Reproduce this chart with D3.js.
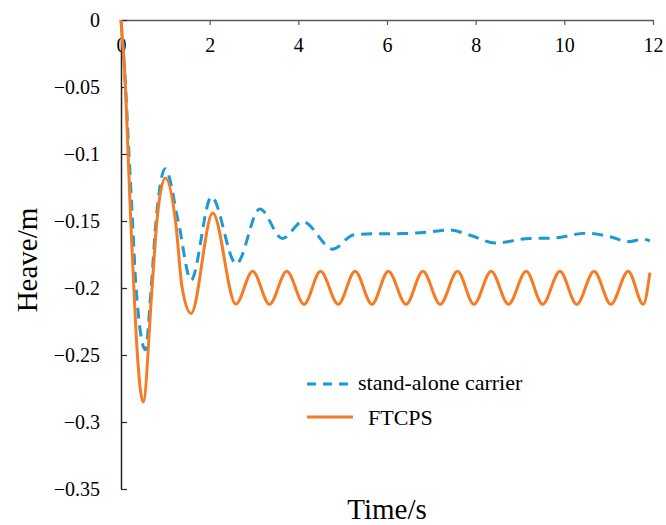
<!DOCTYPE html>
<html>
<head>
<meta charset="utf-8">
<script src="https://cdn.jsdelivr.net/npm/d3@7"></script>
<style>
  body { margin: 0; background: #fff; }
</style>
</head>
<body>
<svg id="chart" width="666" height="525"></svg>
<script>
// values
const xTickValues = [0, 2, 4, 6, 8, 10, 12];
const yTickValues = [0, -0.05, -0.1, -0.15, -0.2, -0.25, -0.3, -0.35];
const yTickLabels = ['0', '\u22120.05', '\u22120.1', '\u22120.15', '\u22120.2', '\u22120.25', '\u22120.3', '\u22120.35'];

const seriesNames = ['stand-alone carrier', 'FTCPS'];

const carrierTime = [0, 0.1, 0.18, 0.26, 0.34, 0.55, 0.68, 0.79, 1.0, 1.29, 1.58, 2.04, 2.6, 3.13, 3.64, 4.1,
  4.78, 5.24, 5.8, 6.36, 7.0, 7.4, 7.91, 8.44, 9.23, 9.68, 10.5, 11.03, 11.44, 11.78, 11.93];
const carrierHeave = [0, -0.048, -0.1, -0.15, -0.2, -0.246, -0.2, -0.15, -0.111, -0.15, -0.194, -0.132, -0.182, -0.141, -0.163, -0.1505,
  -0.171, -0.1604, -0.1595, -0.1594, -0.158, -0.1567, -0.161, -0.1665, -0.163, -0.1629, -0.1592, -0.1617, -0.1654, -0.1636, -0.1649];

const ftcpsTime = [0, 0.1, 0.16, 0.22, 0.29, 0.37, 0.5, 0.7, 0.81, 1.0, 1.23, 1.38, 1.58, 2.07, 2.59,
  2.97, 3.35, 3.74, 4.13, 4.5, 4.9, 5.28, 5.66, 6.03, 6.43, 6.81, 7.2, 7.59, 7.96, 8.35, 8.74,
  9.14, 9.51, 9.9, 10.28, 10.67, 11.05, 11.44, 11.78, 11.93];
const ftcpsHeave = [0, -0.05, -0.1, -0.15, -0.2, -0.25, -0.285, -0.2, -0.15, -0.118, -0.15, -0.2, -0.219, -0.144, -0.212,
  -0.1875, -0.2122, -0.1875, -0.2122, -0.1875, -0.2122, -0.1875, -0.2122, -0.1875, -0.2122, -0.1875, -0.2122, -0.1875, -0.2122, -0.1875, -0.2122,
  -0.1875, -0.2122, -0.1875, -0.2122, -0.1875, -0.2122, -0.1875, -0.2122, -0.1885];

const margin = { top: 20, right: 13, bottom: 36, left: 121 };
const colors = { carrier: '#1b9ad6', ftcps: '#f57c24' };
const serif = '"Liberation Serif", "Times New Roman", Times, serif';

const svg = d3.select('#chart');
const width = +svg.attr('width') - margin.left - margin.right;
const height = +svg.attr('height') - margin.top - margin.bottom;
const g = svg.append('g').attr('transform', `translate(${margin.left},${margin.top})`);

const x = d3.scaleLinear().domain([0, 12]).range([0, width]);
const y = d3.scaleLinear().domain([0, -0.35]).range([0, height]);

function toPoints(times, values) {
  return times.map((t, i) => ({ x: t, y: values[i] }));
}

function createAxisTop() {
  const axis = g.append('g')
    .attr('class', 'axis axis--x')
    .call(d3.axisBottom(x).tickValues(xTickValues).tickSize(5).tickSizeOuter(0).tickPadding(13))
    .attr('font-family', serif)
    .attr('font-size', 20);
  axis.select('.domain').attr('stroke', '#595959').attr('stroke-width', 1.5);
  axis.selectAll('.tick line').attr('stroke', '#595959').attr('stroke-width', 1.2);
  axis.selectAll('.tick text').attr('fill', '#000');
}

function createAxisLeft() {
  const axis = g.append('g')
    .attr('class', 'axis axis--y')
    .call(d3.axisLeft(y).tickValues(yTickValues).tickSize(-6).tickSizeOuter(0).tickPadding(21)
      .tickFormat((d, i) => yTickLabels[i]))
    .attr('font-family', serif)
    .attr('font-size', 20);
  axis.select('.domain').attr('stroke', '#262626').attr('stroke-width', 1.5);
  axis.selectAll('.tick line').attr('stroke', '#262626').attr('stroke-width', 1.2);
  axis.selectAll('.tick text').attr('fill', '#000');
}

createAxisTop();
createAxisLeft();

const line = d3.line()
  .x(d => x(d.x))
  .y(d => y(d.y))
  .curve(d3.curveMonotoneX);

g.append('path')
  .datum(toPoints(carrierTime, carrierHeave))
  .attr('fill', 'none')
  .attr('stroke', colors.carrier)
  .attr('stroke-width', 3)
  .attr('stroke-dasharray', '11,7')
  .attr('d', line);

g.append('path')
  .datum(toPoints(ftcpsTime, ftcpsHeave))
  .attr('fill', 'none')
  .attr('stroke', colors.ftcps)
  .attr('stroke-width', 3)
  .attr('d', line);

// axis titles
svg.append('text')
  .attr('x', 387)
  .attr('y', 519)
  .attr('text-anchor', 'middle')
  .attr('font-family', serif)
  .attr('font-size', 29)
  .text('Time/s');

svg.append('text')
  .attr('transform', 'translate(37,260) rotate(-90)')
  .attr('text-anchor', 'middle')
  .attr('font-family', serif)
  .attr('font-size', 29)
  .text('Heave/m');

// legend
const legend = svg.append('g').attr('class', 'legend')
  .attr('font-family', serif)
  .attr('font-size', 22);
legend.append('line')
  .attr('x1', 307).attr('x2', 354)
  .attr('y1', 384).attr('y2', 384)
  .attr('stroke', colors.carrier)
  .attr('stroke-width', 3)
  .attr('stroke-dasharray', '9,7');
legend.append('text')
  .attr('x', 358)
  .attr('y', 390)
  .text(seriesNames[0]);
legend.append('line')
  .attr('x1', 307).attr('x2', 353)
  .attr('y1', 417).attr('y2', 417)
  .attr('stroke', colors.ftcps)
  .attr('stroke-width', 3);
legend.append('text')
  .attr('x', 368)
  .attr('y', 425)
  .text(seriesNames[1]);
</script>
</body>
</html>
